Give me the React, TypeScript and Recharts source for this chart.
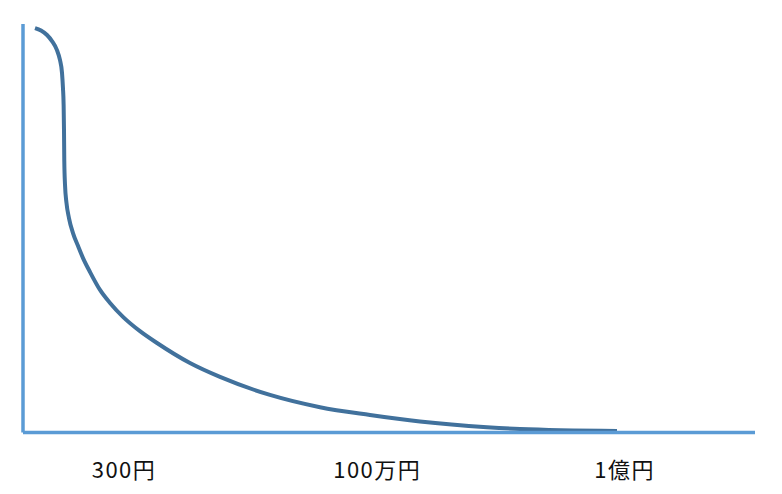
import { LineChart, Line, XAxis, YAxis } from 'recharts';

// curve (x: 0-100 across, y: 0-100 up)
const curveX = [1.64, 2.46, 3.28, 3.96, 4.64, 5.05, 5.33, 5.46, 5.55, 5.6, 5.64, 5.74, 5.94, 6.28, 6.83, 7.51, 8.2, 9.15, 10.52, 11.89, 13.66, 15.98, 18.31, 22.81, 26.91, 33.74, 40.57, 47.4, 54.23, 63.39, 67.9, 81.15];
const curveY = [99.0, 98.4, 97.3, 95.8, 93.6, 91.2, 88.0, 84.3, 80.2, 74.1, 66.6, 60.6, 56.2, 52.5, 48.8, 45.7, 42.7, 39.3, 34.9, 31.7, 28.3, 24.8, 21.9, 17.0, 13.6, 9.2, 6.2, 4.3, 2.7, 1.3, 0.86, 0.37];

const tickValues = [13.8, 48.4, 82.2];
const tickLabels = ['300円', '100万円', '1億円'];

const data = curveX.map((x, i) => ({ x, y: curveY[i] }));

const axisColor = '#5b9bd5';
const lineColor = '#41719c';

function MoneyTick(props: any) {
  const { x, y, payload } = props;
  const idx = tickValues.indexOf(payload.value);
  return (
    <text
      x={x}
      y={y}
      dy={43}
      textAnchor="middle"
      fill="#111"
      fontSize={22}
      letterSpacing={1.5}
      fontFamily="'Noto Sans CJK JP', sans-serif"
    >
      {tickLabels[idx]}
    </text>
  );
}

export default function App() {
  return (
    <div style={{ position: 'absolute', left: 0, top: 0, background: '#fff' }}>
      <LineChart width={782} height={494} data={data} margin={{ top: 24, right: 27, left: 22, bottom: 1.5 }}>
        <XAxis
          dataKey="x"
          type="number"
          domain={[0, 100]}
          ticks={tickValues}
          interval={0}
          height={60}
          tickLine={false}
          tickSize={0}
          axisLine={{ stroke: axisColor, strokeWidth: 3.5 }}
          tick={<MoneyTick />}
        />
        <YAxis
          type="number"
          domain={[0, 100]}
          width={1}
          tick={false}
          tickLine={false}
          axisLine={{ stroke: axisColor, strokeWidth: 3.5 }}
        />
        <Line
          type="monotone"
          dataKey="y"
          stroke={lineColor}
          strokeWidth={4}
          dot={false}
          isAnimationActive={false}
        />
      </LineChart>
    </div>
  );
}
